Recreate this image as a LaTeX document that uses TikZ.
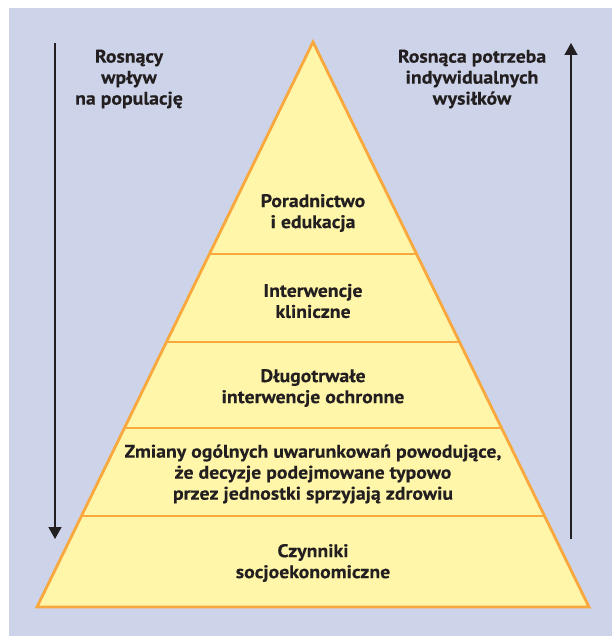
\documentclass[tikz,border=0pt]{standalone}
\usepackage{fontspec}
\setmainfont{PT Sans}[FakeStretch=1.08, BoldFeatures={FakeBold=0.3}]
\usetikzlibrary{arrows.meta,calc}
\definecolor{bg}{HTML}{CDD3E8}
\definecolor{pyrfill}{HTML}{FFF6AA}
\definecolor{pyredge}{HTML}{F9A83E}
\definecolor{ink}{HTML}{231F20}
\begin{document}
\begin{tikzpicture}[x=1pt,y=-1pt,
  lbl/.style={font=\fontsize{18.3}{21}\selectfont\bfseries, text=ink, align=center, inner sep=0pt},
  sepline/.style={draw=pyredge, line width=2.4pt},
  edgeline/.style={draw=pyredge, line width=2.8pt, line join=miter},
  bigarrow/.style={draw=ink, line width=1.4pt, -{Triangle[width=13pt,length=12pt]}}]
\useasboundingbox (0,0) rectangle (612,636);
\fill[bg] (9,8) rectangle (612,636);
% pyramid
\coordinate (apex) at (313,42);
\coordinate (bl) at (37,607);
\coordinate (br) at (589,607);
\fill[pyrfill] (apex) -- (bl) -- (br) -- cycle;
\foreach \t/\n in {0.3752/a,0.5310/b,0.6832/c,0.8389/d}{
  \coordinate (L\n) at ($(apex)!\t!(bl)$);
  \coordinate (R\n) at ($(apex)!\t!(br)$);
  \draw[sepline] (L\n) -- (R\n);
}
\draw[edgeline] (apex) -- (bl) -- (br) -- cycle;
% layer labels
\node[lbl] (l1) at (313,213) {Poradnictwo\\i edukacja};
\node[lbl] (l2) at (313,301) {Interwencje\\kliniczne};
\node[lbl] (l3) at (313,388) {Długotrwałe\\interwencje ochronne};
\node[lbl] (l4) at (313,474) {Zmiany ogólnych uwarunkowań powodujące,\\że decyzje podejmowane typowo\\przez jednostki sprzyjają zdrowiu};
\node[lbl] (l5) at (313,563) {Czynniki\\socjoekonomiczne};
% side labels
\node[lbl] (tl) at (129,79) {Rosnący\\wpływ\\na populację};
\node[lbl] (tr) at (472,79) {Rosnąca potrzeba\\indywidualnych\\wysiłków};
% arrows
\coordinate (a1s) at (55,43);
\coordinate (a1e) at (55,539);
\coordinate (a2s) at (571,539);
\coordinate (a2e) at (571,43);
\draw[bigarrow] (a1s) -- (a1e);
\draw[bigarrow] (a2s) -- (a2e);
\end{tikzpicture}
\end{document}
